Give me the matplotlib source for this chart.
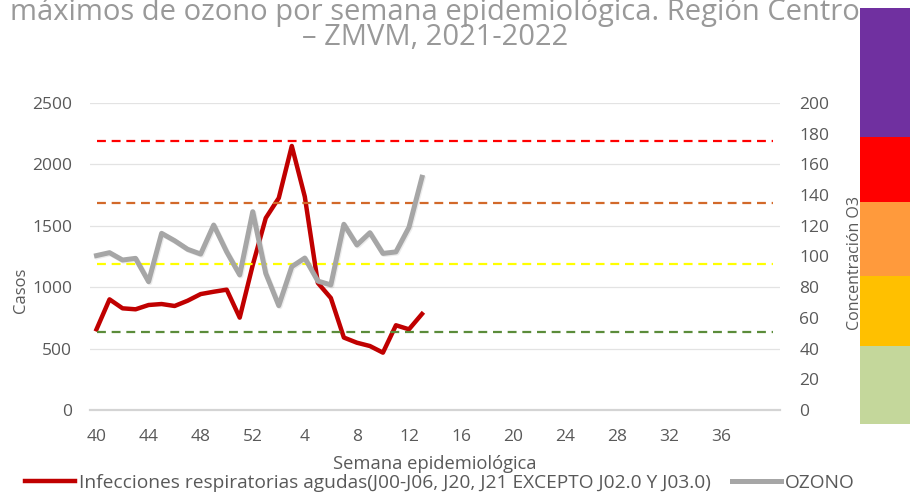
import matplotlib
matplotlib.use("Agg")
import matplotlib.pyplot as plt
import matplotlib.patheffects as pe

# categorias del eje x (semana epidemiologica 40/2021 a 40/2022)
semanas = [40, 41, 42, 43, 44, 45, 46, 47, 48, 49, 50, 51, 52,
           1, 2, 3, 4, 5, 6, 7, 8, 9, 10, 11, 12, 13, 14, 15, 16, 17, 18, 19, 20,
           21, 22, 23, 24, 25, 26, 27, 28, 29, 30, 31, 32, 33, 34, 35, 36, 37, 38, 39, 40]

# casos de IRAs (eje izquierdo)
casos = [657, 901, 828, 820, 855, 863, 847, 890, 944, 963, 980, 752, 1180,
         1563, 1726, 2150, 1737, 1035, 912, 590, 548, 521, 467, 690, 657, 782]

# maximos de ozono ppb (eje derecho)
ozono = [100.6, 102.5, 97.7, 98.8, 83.6, 115.1, 110.3, 104.7, 101.6, 120.5, 103.0, 88.0, 129.2,
         89.0, 68.0, 93.4, 99.0, 84.0, 81.5, 121.0, 107.5, 115.5, 102.0, 103.0, 119.0, 151.6]

# limites del indice AIRE y SALUD para ozono
umbrales = [51, 95, 135, 175]
colores_umbral = ["#5B8C3A", "#FFFF00", "#D2692A", "#FF0000"]

# franjas de la barra de color (de abajo hacia arriba)
franjas = [0, 1, 2, 3, 4]
alto_franjas = [78, 70, 75, 65, 129]
colores_franjas = ["#C4D79B", "#FFC000", "#FF9A3C", "#FF0000", "#7030A0"]

W, H = 910, 492
fig = plt.figure(figsize=(W / 100, H / 100), dpi=100)

fuente = "Open Sans"
gris_txt = "#595959"

ax = fig.add_axes([90 / W, (H - 410) / H, 690 / W, 307 / H])
x = list(range(len(semanas)))
n = len(casos)

ax.plot(x[:n], casos, color="#C00000", lw=3.2, solid_joinstyle="round", zorder=3)
ax.set_ylim(0, 2500)
ax.set_xlim(-0.5, len(semanas) - 0.5)
ax.set_yticks([0, 500, 1000, 1500, 2000, 2500])
ax.grid(axis="y", color="#E3E3E3", lw=0.9)
ax.set_axisbelow(True)
for s in ["top", "right", "left"]:
    ax.spines[s].set_visible(False)
ax.spines["bottom"].set_color("#D4D4D4")
ax.spines["bottom"].set_linewidth(1.6)
# Excel muestra una etiqueta cada 4 semanas, sin la ultima
ax.set_xticks(x[::4][:-1])
ax.set_xticklabels([str(s) for s in semanas[::4][:-1]])
ax.tick_params(axis="both", length=0, labelcolor=gris_txt, labelsize=12.5)
ax.tick_params(axis="y", pad=13)
ax.tick_params(axis="x", pad=14)
for lab in ax.get_xticklabels() + ax.get_yticklabels():
    lab.set_fontfamily(fuente)
ax.set_ylabel("Casos", family=fuente, fontsize=12, color=gris_txt)
ax.yaxis.set_label_coords(-0.089, 0.39)
ax.set_xlabel("Semana epidemiológica", family=fuente, fontsize=13.2, color=gris_txt, labelpad=7)

ax2 = ax.twinx()
for u, c in zip(umbrales, colores_umbral):
    ax2.plot(x, [u] * len(x), color=c, lw=1.6, ls=(0, (4, 2.6)), zorder=2)
ax2.plot(x[:n], ozono, color="#A6A6A6", lw=3.6, solid_joinstyle="round", zorder=4,
         path_effects=[pe.SimpleLineShadow(offset=(0.8, -0.8), alpha=0.15, shadow_color="gray"), pe.Normal()])
ax2.set_ylim(0, 200)
ax2.set_yticks(range(0, 201, 20))
for s in ["top", "right", "left", "bottom"]:
    ax2.spines[s].set_visible(False)
ax2.tick_params(axis="y", length=0, labelcolor=gris_txt, labelsize=12.5, pad=14)
for lab in ax2.get_yticklabels():
    lab.set_fontfamily(fuente)
ax2.set_ylabel("Concentración O3", family=fuente, fontsize=11.5, color=gris_txt)
ax2.yaxis.set_label_coords(1.097, 0.48)

# leyenda inferior
h1, = ax.plot([], [], color="#C00000", lw=3.2)
h2, = ax.plot([], [], color="#A6A6A6", lw=3.6)
fig.legend([h1, h2],
           ["Infecciones respiratorias agudas(J00-J06, J20, J21 EXCEPTO J02.0 Y J03.0)", "OZONO"],
           loc="center", bbox_to_anchor=(440 / W, 1 - 483 / H), ncol=2, frameon=False,
           handlelength=2.6, handletextpad=0.2, columnspacing=1.1, borderpad=0,
           prop={"family": fuente, "size": 13.8}, labelcolor=gris_txt)

# barra de colores a la derecha
axb = fig.add_axes([860 / W, (H - 424) / H, 50 / W, 416 / H])
base = 0
for f, h, c in zip(franjas, alto_franjas, colores_franjas):
    axb.bar(0, h, bottom=base, width=1, color=c, lw=0)
    base += h
axb.set_xlim(-0.5, 0.5)
axb.set_ylim(0, base)
axb.axis("off")

# titulo (la primera linea queda cortada arriba, como en el original)
fig.text(435 / W, 1 - 45 / H,
         "máximos de ozono por semana epidemiológica. Región Centro\n– ZMVM, 2021-2022",
         ha="center", va="baseline", ma="center", linespacing=0.8,
         family=fuente, fontsize=21, color="#999999")

fig.savefig("out.png", dpi=100)
